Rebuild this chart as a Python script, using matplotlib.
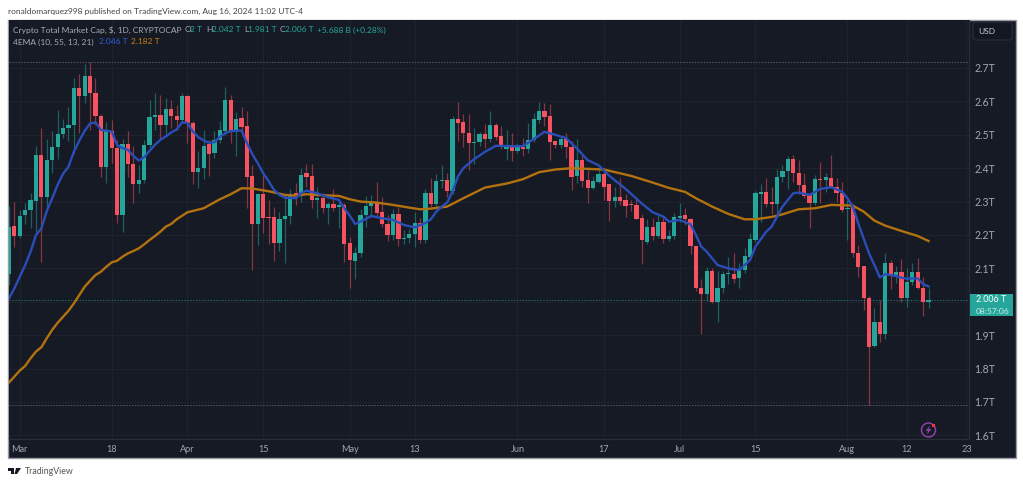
#!/usr/bin/env python3
'''
Crypto total market cap daily candles with two EMA lines, TradingView dark look
'''
import matplotlib
matplotlib.use('Agg')
import matplotlib.pyplot as plt
from matplotlib.patches import Circle, FancyBboxPatch, Polygon, Rectangle

WIDTH, HEIGHT = 1023, 484

opens = [2.083, 2.227, 2.198, 2.259, 2.274, 2.303, 2.441, 2.313, 2.424, 2.464,
         2.502, 2.52, 2.53, 2.64, 2.615, 2.677, 2.626, 2.556, 2.405, 2.512,
         2.461, 2.26, 2.472, 2.414, 2.354, 2.364, 2.468, 2.554, 2.559, 2.529,
         2.576, 2.557, 2.544, 2.616, 2.536, 2.389, 2.402, 2.471, 2.444, 2.484,
         2.512, 2.604, 2.507, 2.549, 2.525, 2.377, 2.233, 2.323, 2.253, 2.254,
         2.177, 2.248, 2.258, 2.325, 2.317, 2.387, 2.376, 2.305, 2.311, 2.28,
         2.293, 2.283, 2.29, 2.175, 2.122, 2.145, 2.26, 2.287, 2.297, 2.268,
         2.232, 2.199, 2.262, 2.188, 2.19, 2.203, 2.236, 2.185, 2.326, 2.292,
         2.362, 2.365, 2.333, 2.547, 2.537, 2.505, 2.475, 2.479, 2.503, 2.488,
         2.529, 2.497, 2.458, 2.466, 2.451, 2.464, 2.457, 2.484, 2.544, 2.572,
         2.555, 2.481, 2.468, 2.486, 2.463, 2.376, 2.426, 2.364, 2.34, 2.36,
         2.384, 2.353, 2.303, 2.315, 2.305, 2.29, 2.289, 2.25, 2.178, 2.225,
         2.197, 2.24, 2.188, 2.197, 2.25, 2.259, 2.247, 2.168, 2.041, 2.022,
         2.093, 1.998, 2.041, 2.083, 2.084, 2.071, 2.095, 2.135, 2.185, 2.324,
         2.328, 2.298, 2.292, 2.373, 2.391, 2.427, 2.387, 2.351, 2.32, 2.295,
         2.368, 2.365, 2.372, 2.345, 2.325, 2.278, 2.285, 2.147, 2.107, 2.01,
         1.869, 1.94, 1.904, 2.116, 2.079, 2.088, 2.012, 2.06, 2.088, 2.04,
         2.0]
highs = [2.287, 2.30, 2.275, 2.296, 2.325, 2.466, 2.52, 2.486, 2.511, 2.574,
         2.546, 2.584, 2.669, 2.682, 2.712, 2.719, 2.671, 2.562, 2.538, 2.545,
         2.485, 2.487, 2.51, 2.465, 2.41, 2.484, 2.604, 2.624, 2.62, 2.609,
         2.604, 2.589, 2.624, 2.618, 2.54, 2.452, 2.514, 2.484, 2.511, 2.542,
         2.642, 2.619, 2.567, 2.584, 2.571, 2.41, 2.325, 2.385, 2.305, 2.285,
         2.27, 2.32, 2.338, 2.357, 2.40, 2.414, 2.414, 2.343, 2.325, 2.30,
         2.337, 2.30, 2.295, 2.195, 2.165, 2.278, 2.317, 2.319, 2.358, 2.313,
         2.26, 2.277, 2.283, 2.215, 2.217, 2.268, 2.25, 2.337, 2.37, 2.383,
         2.41, 2.386, 2.556, 2.598, 2.562, 2.562, 2.519, 2.509, 2.531, 2.572,
         2.534, 2.526, 2.514, 2.504, 2.474, 2.491, 2.536, 2.564, 2.597, 2.594,
         2.592, 2.482, 2.494, 2.504, 2.48, 2.486, 2.44, 2.394, 2.377, 2.394,
         2.402, 2.353, 2.345, 2.37, 2.323, 2.305, 2.31, 2.263, 2.247, 2.25,
         2.26, 2.257, 2.215, 2.265, 2.295, 2.282, 2.25, 2.168, 2.067, 2.103,
         2.10, 2.093, 2.093, 2.133, 2.145, 2.115, 2.16, 2.207, 2.332, 2.352,
         2.372, 2.343, 2.397, 2.41, 2.438, 2.441, 2.424, 2.387, 2.325, 2.38,
         2.418, 2.385, 2.441, 2.37, 2.36, 2.305, 2.29, 2.17, 2.107, 2.018,
         1.98, 2.005, 2.145, 2.125, 2.108, 2.127, 2.10, 2.115, 2.13, 2.075,
         2.042]
lows = [2.05, 2.163, 2.19, 2.233, 2.22, 2.21, 2.12, 2.275, 2.385, 2.428,
        2.49, 2.48, 2.445, 2.505, 2.594, 2.515, 2.53, 2.375, 2.355, 2.415,
        2.235, 2.208, 2.375, 2.295, 2.325, 2.355, 2.46, 2.514, 2.484, 2.5,
        2.52, 2.514, 2.534, 2.474, 2.353, 2.342, 2.367, 2.377, 2.431, 2.476,
        2.499, 2.474, 2.437, 2.506, 2.28, 2.095, 2.17, 2.205, 2.173, 2.122,
        2.152, 2.115, 2.232, 2.29, 2.30, 2.345, 2.28, 2.252, 2.265, 2.232,
        2.272, 2.222, 2.12, 2.04, 2.068, 2.135, 2.225, 2.255, 2.255, 2.225,
        2.183, 2.185, 2.168, 2.173, 2.177, 2.165, 2.175, 2.175, 2.285, 2.285,
        2.34, 2.315, 2.322, 2.482, 2.464, 2.394, 2.412, 2.465, 2.459, 2.479,
        2.484, 2.456, 2.426, 2.422, 2.444, 2.437, 2.446, 2.479, 2.536, 2.527,
        2.424, 2.459, 2.459, 2.43, 2.336, 2.357, 2.343, 2.297, 2.337, 2.355,
        2.305, 2.242, 2.285, 2.29, 2.255, 2.273, 2.247, 2.113, 2.173, 2.185,
        2.19, 2.177, 2.182, 2.187, 2.24, 2.23, 2.143, 2.033, 1.904, 2.003,
        1.995, 1.94, 2.025, 2.053, 2.055, 2.041, 2.087, 2.133, 2.18, 2.24,
        2.285, 2.262, 2.262, 2.36, 2.337, 2.36, 2.322, 2.31, 2.222, 2.29,
        2.295, 2.33, 2.34, 2.30, 2.27, 2.185, 2.135, 2.075, 1.975, 1.691,
        1.866, 1.879, 1.888, 2.037, 2.055, 2.0, 1.985, 2.05, 2.037, 1.958,
        1.981]
closes = [2.225, 2.198, 2.258, 2.274, 2.304, 2.441, 2.313, 2.424, 2.464, 2.502,
          2.52, 2.53, 2.64, 2.615, 2.677, 2.626, 2.556, 2.405, 2.512, 2.461,
          2.26, 2.472, 2.414, 2.354, 2.364, 2.468, 2.554, 2.559, 2.529, 2.576,
          2.556, 2.544, 2.616, 2.536, 2.389, 2.402, 2.466, 2.443, 2.484, 2.514,
          2.604, 2.507, 2.546, 2.523, 2.375, 2.233, 2.323, 2.252, 2.251, 2.177,
          2.248, 2.258, 2.323, 2.317, 2.379, 2.375, 2.305, 2.311, 2.28, 2.292,
          2.282, 2.289, 2.174, 2.125, 2.145, 2.26, 2.287, 2.297, 2.267, 2.232,
          2.199, 2.262, 2.188, 2.19, 2.203, 2.236, 2.184, 2.326, 2.292, 2.362,
          2.366, 2.332, 2.547, 2.536, 2.504, 2.476, 2.479, 2.503, 2.488, 2.529,
          2.494, 2.466, 2.466, 2.451, 2.464, 2.457, 2.484, 2.546, 2.572, 2.554,
          2.479, 2.468, 2.486, 2.463, 2.374, 2.426, 2.362, 2.34, 2.361, 2.384,
          2.344, 2.302, 2.315, 2.303, 2.288, 2.289, 2.249, 2.185, 2.225, 2.197,
          2.24, 2.188, 2.198, 2.254, 2.258, 2.247, 2.167, 2.041, 2.022, 2.093,
          1.998, 2.041, 2.083, 2.085, 2.069, 2.096, 2.137, 2.188, 2.325, 2.326,
          2.294, 2.294, 2.373, 2.392, 2.427, 2.385, 2.349, 2.317, 2.295, 2.368,
          2.364, 2.374, 2.344, 2.325, 2.276, 2.282, 2.145, 2.105, 2.01, 1.866,
          1.94, 1.904, 2.115, 2.079, 2.088, 2.012, 2.06, 2.088, 2.04, 1.999,
          2.006]

# EMA lines at these day numbers (0 = first candle)
fast_days = [0, 1, 2, 3, 4, 5, 6, 7, 8, 9, 10, 11, 12, 13, 14, 15, 16, 17, 18, 19,
             20, 21, 22, 23, 24, 25, 26, 27, 28, 29, 30, 31, 32, 33, 34, 35, 36, 37,
             38, 39, 40, 41, 43, 44, 45, 46, 47, 48, 49, 50, 51, 53, 54, 55, 57, 59,
             61, 62, 63, 64, 65, 67, 69, 71, 73, 75, 77, 78, 79, 80, 81, 82, 83, 84,
             86, 88, 90, 93, 95, 97, 99, 101, 103, 105, 107, 109, 111, 114, 117, 119,
             121, 122, 124, 126, 127, 128, 129, 131, 133, 135, 137, 138, 140, 141, 143,
             145, 146, 148, 150, 152, 154, 155, 156, 157, 158, 159, 160, 161, 162, 163,
             164, 165, 166, 167, 168, 169, 170]
fast_ema = [2.01, 2.04, 2.075, 2.11, 2.15, 2.2, 2.22, 2.272, 2.31, 2.35, 2.383, 2.404,
            2.449, 2.482, 2.512, 2.534, 2.537, 2.515, 2.512, 2.51, 2.469, 2.46, 2.455,
            2.437, 2.423, 2.433, 2.452, 2.47, 2.485, 2.495, 2.507, 2.516, 2.537, 2.536,
            2.51, 2.493, 2.483, 2.476, 2.478, 2.494, 2.505, 2.511, 2.513, 2.475, 2.442,
            2.415, 2.385, 2.361, 2.335, 2.32, 2.312, 2.31, 2.325, 2.333, 2.325, 2.313,
            2.305, 2.28, 2.258, 2.233, 2.24, 2.257, 2.25, 2.245, 2.23, 2.223, 2.236,
            2.247, 2.27, 2.285, 2.297, 2.33, 2.375, 2.40, 2.427, 2.449, 2.467, 2.466,
            2.466, 2.487, 2.509, 2.50, 2.49, 2.459, 2.424, 2.409, 2.377, 2.338, 2.294,
            2.268, 2.255, 2.24, 2.245, 2.232, 2.2, 2.165, 2.15, 2.11, 2.10, 2.095, 2.125,
            2.165, 2.21, 2.225, 2.285, 2.325, 2.327, 2.32, 2.338, 2.343, 2.33, 2.31,
            2.285, 2.235, 2.19, 2.145, 2.11, 2.073, 2.083, 2.08, 2.077, 2.072, 2.069,
            2.07, 2.07, 2.053, 2.046]
slow_days = [0, 1, 2, 3, 4, 5, 6, 7, 8, 9, 10, 11, 12, 13, 14, 15, 16, 17, 18, 19, 20,
             21, 22, 23, 24, 25, 26, 27, 28, 29, 30, 31, 33, 36, 39, 41, 43, 45, 48, 51,
             53, 55, 58, 61, 63, 65, 68, 71, 74, 76, 78, 81, 84, 88, 92, 95, 98, 101,
             104, 110, 115, 119, 122, 125, 127, 130, 133, 136, 138, 141, 143, 146, 149,
             152, 156, 158, 160, 162, 165, 168, 170]
slow_ema = [1.758, 1.776, 1.794, 1.808, 1.831, 1.851, 1.864, 1.891, 1.916, 1.937, 1.955,
            1.973, 1.995, 2.02, 2.045, 2.063, 2.08, 2.09, 2.105, 2.118, 2.123, 2.135,
            2.145, 2.152, 2.16, 2.172, 2.185, 2.197, 2.21, 2.225, 2.233, 2.247, 2.268,
            2.28, 2.307, 2.322, 2.34, 2.339, 2.331, 2.32, 2.318, 2.322, 2.319, 2.317,
            2.307, 2.30, 2.297, 2.29, 2.282, 2.277, 2.279, 2.285, 2.31, 2.342, 2.354,
            2.367, 2.388, 2.396, 2.40, 2.396, 2.377, 2.357, 2.341, 2.329, 2.31, 2.285,
            2.263, 2.247, 2.247, 2.254, 2.262, 2.277, 2.28, 2.29, 2.288, 2.27, 2.243,
            2.228, 2.212, 2.197, 2.182]

price_ticks = [1.6, 1.7, 1.8, 1.9, 2.0, 2.1, 2.2, 2.3, 2.4, 2.5, 2.6, 2.7]
price_labels = ['1.6T', '1.7T', '1.8T', '1.9T', '', '2.1T', '2.2T', '2.3T', '2.4T',
                '2.5T', '2.6T', '2.7T']
date_ticks = [2, 19, 33, 47, 63, 75, 94, 110, 124, 138, 155, 166, 177]
date_labels = ['Mar', '18', 'Apr', '15', 'May', '13', 'Jun', '17', 'Jul', '15', 'Aug',
               '12', '23']

period_high = 2.719
period_low = 1.691
last_close = 2.006

FONT = 'Lato'
PANEL = '#161a25'
GRID = '#1e222d'
BORDER = '#2a2e39'
UP = '#26a69a'
DOWN = '#f7525f'
FAST = '#2a4db8'
SLOW = '#b3720f'
AXIS_TEXT = '#a3a6af'
LABEL = '#a8abb4'

def put_text(fig, x, y, text, color, size=6.05, **kwargs):
    '''
    write text at a pixel position, measured from the top left of the figure
    '''
    fig.text(x / WIDTH, 1 - y / HEIGHT, text, color=color, fontsize=size, va='center',
             family=FONT, **kwargs)

def pixel_rect(x0, y0, x1, y1):
    '''
    axes rectangle in figure fractions from pixel corners
    '''
    return [x0 / WIDTH, 1 - y1 / HEIGHT, (x1 - x0) / WIDTH, (y1 - y0) / HEIGHT]

def draw_candles(ax):
    '''
    wicks first, then bodies on top
    '''
    for day, (o, h, l, c) in enumerate(zip(opens, highs, lows, closes)):
        color = UP if c >= o else DOWN
        ax.vlines(day, l, h, color=color, linewidth=0.9, alpha=0.5, zorder=3)
        ax.bar(day, max(abs(c - o), 0.004), bottom=min(o, c), width=0.78, color=color,
               linewidth=0, zorder=4)

def draw_frame(fig):
    '''
    outer panel behind the axes and the badge with the last price
    '''
    fig.add_artist(Rectangle((8 / WIDTH, 1 - 458 / HEIGHT), 1007.5 / WIDTH, 438 / HEIGHT,
                             transform=fig.transFigure, facecolor=PANEL,
                             edgecolor='#9a9ca3', linewidth=1.0, zorder=-5))
    fig.add_artist(FancyBboxPatch((973, HEIGHT - 40), 39, 18, boxstyle='round,pad=0,rounding_size=3',
                                  transform=None, facecolor='#131722', edgecolor=BORDER,
                                  linewidth=0.8))
    fig.add_artist(Rectangle((969.5, HEIGHT - 316), 43.5, 22, transform=None,
                             facecolor=UP, edgecolor='none', zorder=5))

def draw_legend(fig):
    '''
    the two header rows and the text outside the panel
    '''
    put_text(fig, 8, 11, 'ronaldomarquez998 published on TradingView.com, Aug 16, 2024 11:02 UTC-4',
             '#444444')
    put_text(fig, 13, 30, 'Crypto Total Market Cap, $, 1D, CRYPTOCAP', LABEL)
    row = [(185, 'O', LABEL), (190, '2 T', UP), (206, 'H', LABEL), (212, '2.042 T', UP),
           (244, 'L', LABEL), (248, '1.981 T', UP), (280, 'C', LABEL), (285, '2.006 T', UP),
           (317, '+5.688 B (+0.28%)', UP)]
    for x, text, color in row:
        put_text(fig, x, 30, text, color)
    put_text(fig, 13, 42, '4EMA (10, 55, 13, 21)', LABEL)
    put_text(fig, 99, 42, '2.046 T', '#2f5fd8')
    put_text(fig, 131, 42, '2.182 T', '#c47f12')
    put_text(fig, 978, 31, 'USD', '#c8cad0', size=6.0)
    put_text(fig, 976, 300, '2.006 T', 'white', size=6.4, zorder=6)
    put_text(fig, 976, 311, '08:57:06', '#c5ebe6', size=6.1, zorder=6)
    put_text(fig, 25, 472, 'TradingView', '#555555', size=6.3)

def draw_logos(fig):
    '''
    TradingView mark in the footer and the small purple bolt badge
    '''
    fig.add_artist(Polygon([(8, HEIGHT - 468), (14, HEIGHT - 468), (14, HEIGHT - 474),
                            (11, HEIGHT - 474), (11, HEIGHT - 470.5), (8, HEIGHT - 470.5)],
                           transform=None, facecolor='#131722', edgecolor='none'))
    fig.add_artist(Polygon([(16, HEIGHT - 468), (21, HEIGHT - 468), (17, HEIGHT - 474), (14.5, HEIGHT - 474)],
                           transform=None, facecolor='#131722', edgecolor='none'))
    fig.add_artist(Circle((928.5, HEIGHT - 430), 7, transform=None, facecolor='none',
                          edgecolor='#8e3fa8', linewidth=1.1, zorder=6))
    fig.add_artist(Polygon([(930, HEIGHT - 425.5), (925.5, HEIGHT - 431), (928, HEIGHT - 431),
                            (927, HEIGHT - 434.5), (931.5, HEIGHT - 429), (929, HEIGHT - 429)],
                           transform=None, facecolor='#8e3fa8', edgecolor='none', zorder=6))
    fig.add_artist(Rectangle((932, HEIGHT - 427), 3, 3, transform=None, facecolor='#f23645',
                             edgecolor='none', zorder=7))

def main():
    '''
    build the chart and save it
    '''
    fig = plt.figure(figsize=(WIDTH / 100, HEIGHT / 100), dpi=100, facecolor='white')
    draw_frame(fig)

    ax = fig.add_axes(pixel_rect(8.5, 20, 969, 439))
    ax.set_facecolor(PANEL)
    ax.set_xlim(-0.08, 177.48)
    ax.set_ylim(1.5892, 2.8437)

    ax.set_yticks(price_ticks, price_labels, family=FONT)
    ax.set_xticks(date_ticks, date_labels, family=FONT)
    ax.yaxis.tick_right()
    ax.tick_params(axis='y', length=0, pad=4.0, labelsize=7.6, labelcolor=AXIS_TEXT)
    ax.tick_params(axis='x', length=0, pad=4.5, labelsize=6.6, labelcolor=AXIS_TEXT)
    ax.grid(True, color=GRID, linewidth=0.8, zorder=0)
    ax.set_axisbelow(True)
    for name, spine in ax.spines.items():
        spine.set_visible(name in ('right', 'bottom'))
        spine.set_color(BORDER)
        spine.set_linewidth(0.9)

    ax.axhline(period_high, color='#565a66', linewidth=0.7, linestyle=(0, (1.5, 1.5)), zorder=2)
    ax.axhline(period_low, color='#565a66', linewidth=0.7, linestyle=(0, (1.5, 1.5)), zorder=2)
    ax.axhline(last_close, color='#1e6f69', linewidth=0.7, linestyle=(0, (1.5, 1.5)), zorder=2)

    draw_candles(ax)
    ax.plot(slow_days, slow_ema, color=SLOW, linewidth=1.7, zorder=5)
    ax.plot(fast_days, fast_ema, color=FAST, linewidth=1.7, zorder=5)

    draw_legend(fig)
    draw_logos(fig)
    fig.savefig('out.png', dpi=100, facecolor='white')

if __name__ == '__main__':
    main()
